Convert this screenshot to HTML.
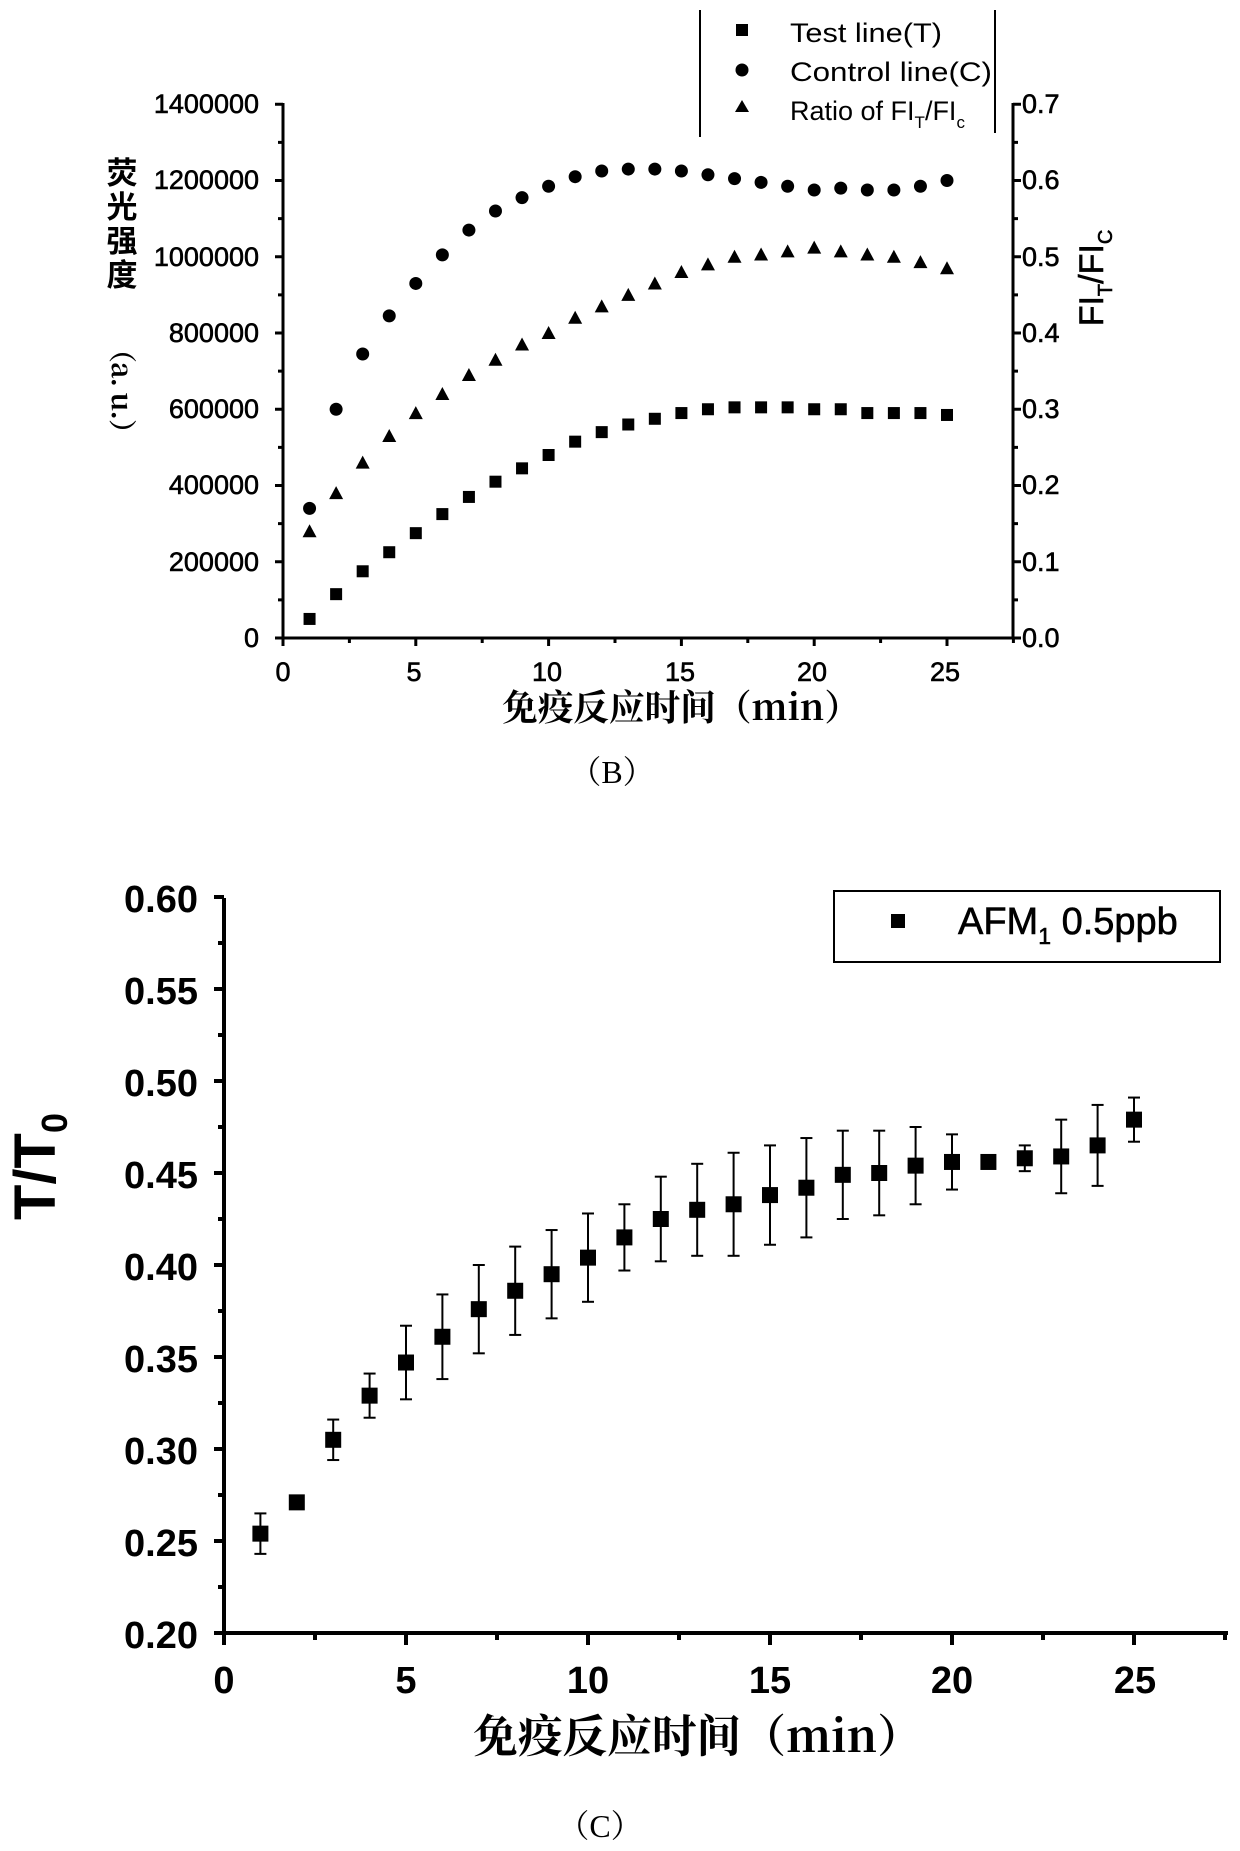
<!DOCTYPE html>
<html><head><meta charset="utf-8">
<style>
html,body{margin:0;padding:0;background:#fff;}
svg{display:block;}
text{font-family:"Liberation Sans","Noto Sans CJK SC",sans-serif;fill:#000;}
.cjk{font-family:"Noto Serif CJK SC","Noto Sans CJK SC",serif;font-weight:bold;}
.ser{font-family:"Liberation Serif","Noto Serif CJK SC",serif;}
.hv{stroke:#000;stroke-width:0.6;}
</style></head>
<body>
<svg id="s" width="1240" height="1851" viewBox="0 0 1240 1851" xmlns="http://www.w3.org/2000/svg">
<rect width="1240" height="1851" fill="#fff"/>
<!-- Chart B axes -->
<g stroke="#000" stroke-width="3" fill="none">
<line x1="283" y1="103" x2="283" y2="639"/>
<line x1="282" y1="638" x2="1014" y2="638"/>
<line x1="1013" y1="103" x2="1013" y2="639"/>
<line x1="700" y1="10" x2="700" y2="137" stroke-width="2"/>
<line x1="995" y1="10" x2="995" y2="133" stroke-width="2"/>
</g>
<g id="bt" stroke="#000" stroke-width="3"></g>
<!-- B tick labels -->
<g font-size="27" text-anchor="end" class="hv">
<text x="259" y="113">1400000</text>
<text x="259" y="189">1200000</text>
<text x="259" y="266">1000000</text>
<text x="259" y="342">800000</text>
<text x="259" y="418">600000</text>
<text x="259" y="494">400000</text>
<text x="259" y="571">200000</text>
<text x="259" y="647">0</text>
</g>
<g font-size="27" text-anchor="start" class="hv">
<text x="1022" y="113">0.7</text>
<text x="1022" y="189">0.6</text>
<text x="1022" y="266">0.5</text>
<text x="1022" y="342">0.4</text>
<text x="1022" y="418">0.3</text>
<text x="1022" y="494">0.2</text>
<text x="1022" y="571">0.1</text>
<text x="1022" y="647">0.0</text>
</g>
<g font-size="27" text-anchor="middle" class="hv">
<text x="283" y="681">0</text>
<text x="414" y="681">5</text>
<text x="547" y="681">10</text>
<text x="680" y="681">15</text>
<text x="812" y="681">20</text>
<text x="945" y="681">25</text>
</g>
<g class="cjk" font-size="31" text-anchor="middle">
<text x="122" y="184">荧</text>
<text x="122" y="218">光</text>
<text x="122" y="252">强</text>
<text x="122" y="286">度</text>
</g>
<text class="cjk" transform="translate(112,335) rotate(90)" font-size="28" textLength="112" lengthAdjust="spacing">（a. u.）</text>
<text transform="translate(1103,278) rotate(-90)" font-size="34" text-anchor="middle" class="hv">FI<tspan font-size="20" dy="9">T</tspan><tspan dy="-9">/FI</tspan><tspan font-size="20" dy="9">C</tspan></text>
<text class="cjk" x="502" y="720" font-size="36" textLength="358" lengthAdjust="spacingAndGlyphs">免疫反应时间（min）</text>
<text class="ser" x="612" y="783" font-size="32" text-anchor="middle">（B）</text>
<!-- B legend -->
<rect x="736" y="24" width="12" height="12" fill="#000"/>
<circle cx="742" cy="70" r="6.5" fill="#000"/>
<polygon points="742,100 749,112 735,112" fill="#000"/>
<g font-size="27">
<text x="790" y="42" textLength="152" lengthAdjust="spacingAndGlyphs">Test line(T)</text>
<text x="790" y="81" textLength="202" lengthAdjust="spacingAndGlyphs">Control line(C)</text>
<text x="790" y="120">Ratio of FI<tspan font-size="17" dy="8">T</tspan><tspan dy="-8">/FI</tspan><tspan font-size="17" dy="8">c</tspan></text>
</g>
<g id="bd"></g>
<!-- Chart C -->
<g stroke="#000" stroke-width="4" fill="none">
<line x1="224" y1="898" x2="224" y2="1635"/>
<line x1="222" y1="1633" x2="1228" y2="1633"/>
</g>
<g id="ct" stroke="#000" stroke-width="4"></g>
<g font-size="38" font-weight="bold" text-anchor="end">
<text x="198" y="912">0.60</text>
<text x="198" y="1004">0.55</text>
<text x="198" y="1096">0.50</text>
<text x="198" y="1188">0.45</text>
<text x="198" y="1280">0.40</text>
<text x="198" y="1372">0.35</text>
<text x="198" y="1464">0.30</text>
<text x="198" y="1556">0.25</text>
<text x="198" y="1648">0.20</text>
</g>
<g font-size="38" font-weight="bold" text-anchor="middle">
<text x="224" y="1693">0</text>
<text x="406" y="1693">5</text>
<text x="588" y="1693">10</text>
<text x="770" y="1693">15</text>
<text x="952" y="1693">20</text>
<text x="1135" y="1693">25</text>
</g>
<text transform="translate(55,1220) rotate(-90)" font-size="58" font-weight="bold">T/T<tspan font-size="36" dy="12">0</tspan></text>
<text class="cjk" x="473" y="1752" font-size="45" textLength="449" lengthAdjust="spacingAndGlyphs">免疫反应时间（min）</text>
<text class="ser" x="600" y="1837" font-size="32" text-anchor="middle">（C）</text>
<rect x="834" y="891" width="386" height="71" fill="none" stroke="#000" stroke-width="2"/>
<rect x="891" y="914" width="14" height="14" fill="#000"/>
<text x="958" y="934" font-size="38" class="hv">AFM<tspan font-size="23" dy="10">1</tspan><tspan dy="-10"> 0.5ppb</tspan></text>
<g id="cd"></g>
</svg>
<script>
var NS="http://www.w3.org/2000/svg";
function el(p,t,a){var e=document.createElementNS(NS,t);for(var k in a)e.setAttribute(k,a[k]);document.getElementById(p).appendChild(e);}
var bx0=283,bpx=26.56,by0=638,bpy=76.25/200000;
for(var v=0;v<=1400000;v+=100000){var y=by0-v*bpy,L=(v%200000==0)?8:5;
el("bt","line",{x1:283-L,y1:y,x2:283,y2:y});el("bt","line",{x1:1013,y1:y,x2:1013+L,y2:y});}
for(var m=0;m<=27.5;m+=2.5){var x=bx0+m*bpx,L=(m%5==0)?8:5;el("bt","line",{x1:x,y1:638,x2:x,y2:638+L});}
var C=[340,600,745,845,930,1005,1070,1120,1155,1185,1210,1225,1230,1230,1225,1215,1205,1195,1185,1175,1180,1175,1175,1185,1200];
var T=[50,115,175,225,275,325,370,410,445,480,515,540,560,575,590,600,605,605,605,600,600,590,590,590,585];
var R=[.14,.19,.23,.265,.295,.32,.345,.365,.385,.40,.42,.435,.45,.465,.48,.49,.50,.503,.507,.512,.507,.503,.50,.493,.485];
for(var i=0;i<25;i++){var x=bx0+(i+1)*bpx;
el("bd","circle",{cx:x,cy:by0-C[i]*1000*bpy,r:6.5,fill:"#000"});
el("bd","rect",{x:x-6,y:by0-T[i]*1000*bpy-6,width:12,height:12,fill:"#000"});
var y=by0-R[i]*2000000*bpy;el("bd","polygon",{points:(x)+","+(y-7)+" "+(x+7)+","+(y+6)+" "+(x-7)+","+(y+6),fill:"#000"});}
var cx0=224,cpx=36.4,cy0=1633,cpy=92/0.05;
for(var k=0;k<=16;k++){var y=cy0-k*46,L=(k%2==0)?10:6;el("ct","line",{x1:224-L,y1:y,x2:224,y2:y});}
for(var m=0;m<=27.5;m+=2.5){var x=cx0+m*cpx,L=(m%5==0)?12:7;el("ct","line",{x1:x,y1:1633,x2:x,y2:1633+L});}
var V=[.254,.271,.305,.329,.347,.361,.376,.386,.395,.404,.415,.425,.43,.433,.438,.442,.449,.45,.454,.456,.456,.458,.459,.465,.479];
var E=[.011,0,.011,.012,.02,.023,.024,.024,.024,.024,.018,.023,.025,.028,.027,.027,.024,.023,.021,.015,0,.007,.02,.022,.012];
for(var i=0;i<25;i++){var x=cx0+(i+1)*cpx,y=cy0-(V[i]-0.2)*cpy,e=E[i]*cpy;
if(e>0){el("cd","line",{x1:x,y1:y-e,x2:x,y2:y+e,stroke:"#000","stroke-width":2});
el("cd","line",{x1:x-6,y1:y-e,x2:x+6,y2:y-e,stroke:"#000","stroke-width":2});
el("cd","line",{x1:x-6,y1:y+e,x2:x+6,y2:y+e,stroke:"#000","stroke-width":2});}
el("cd","rect",{x:x-8,y:y-8,width:16,height:16,fill:"#000"});}
</script>
</body></html>
